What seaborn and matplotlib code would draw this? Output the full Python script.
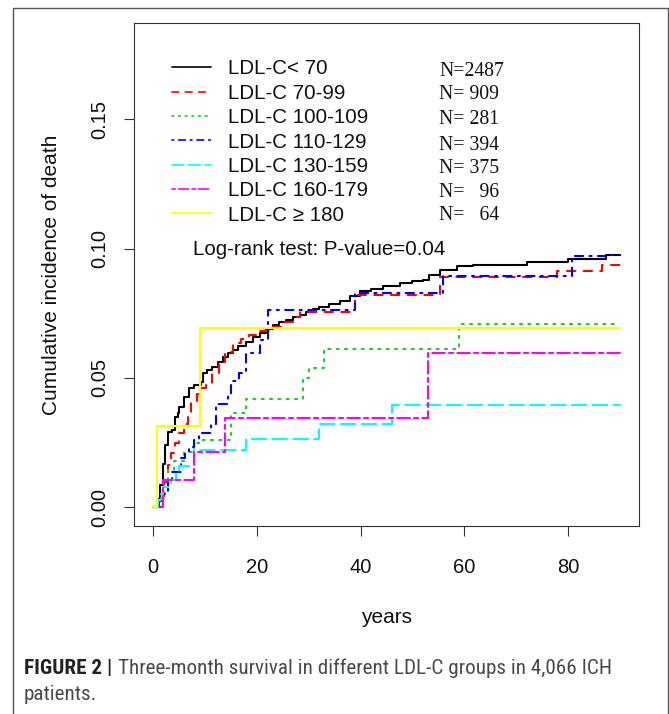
import numpy as np
import pandas as pd
import matplotlib
matplotlib.use("Agg")
import matplotlib.pyplot as plt
import seaborn as sns
from matplotlib.lines import Line2D
from matplotlib.patches import Rectangle
from matplotlib import font_manager

# ---------------- data ----------------
groups = ["LDL-C< 70", "LDL-C 70-99", "LDL-C 100-109", "LDL-C 110-129",
          "LDL-C 130-159", "LDL-C 160-179", "LDL-C \u2265 180"]
counts = ["N=2487", "N= 909", "N= 281", "N= 394", "N= 375", "N=   96", "N=   64"]

black_t = [0, 1.2, 1.4, 1.9, 2.4, 2.9, 3.8, 4.2, 4.8, 5.1, 6.1, 7.0, 8.0, 9.3, 9.6, 10.5,
           11.5, 12.5, 13.5, 14.5, 15.4, 16.5, 18, 19.3, 20.6, 21.8, 23.1, 24.4, 25.7, 27,
           28.3, 29.5, 30.8, 32.1, 34, 36, 38, 39.9, 42, 44.4, 47.6, 50, 52.1, 53.1, 55.3,
           58.5, 61.7, 72, 80, 87.2, 90]
black_v = [0, 0.0032, 0.0085, 0.0169, 0.0240, 0.0292, 0.0298, 0.0350, 0.0363, 0.0389,
           0.0428, 0.0460, 0.0473, 0.0486, 0.0518, 0.0531, 0.0544, 0.0560, 0.0583, 0.0595,
           0.0609, 0.0625, 0.0641, 0.0657, 0.0673, 0.0690, 0.0705, 0.0715, 0.0725, 0.0735,
           0.0744, 0.0755, 0.0766, 0.0776, 0.0786, 0.0796, 0.0815, 0.0835, 0.0845, 0.0854,
           0.0867, 0.0873, 0.0880, 0.0899, 0.0919, 0.0934, 0.0938, 0.0947, 0.0960, 0.0977,
           0.0977]

red_t = [0, 1.5, 1.9, 2.2, 3.0, 3.5, 4.2, 5.1, 6.1, 6.7, 7.4, 8.5, 9.3, 10.3, 11.5, 12.8,
         14.0, 15.4, 17.0, 18.5, 20.6, 23.1, 25.0, 27.0, 28.3, 38.9, 55.2, 77.8, 86.5, 90]
red_v = [0, 0.0011, 0.0044, 0.0099, 0.0165, 0.0209, 0.0247, 0.0286, 0.0324, 0.0363,
         0.0402, 0.0440, 0.0460, 0.0479, 0.0520, 0.0563, 0.0600, 0.0634, 0.0650, 0.0665,
         0.0680, 0.0699, 0.0715, 0.0735, 0.0757, 0.0822, 0.0890, 0.0912, 0.0938, 0.0938]

green_t = [0, 1, 2, 3, 4, 6, 8, 9, 15, 18, 29, 30, 33, 59, 90]
green_v = [0, 0.0036, 0.0107, 0.0143, 0.0180, 0.0215, 0.0250, 0.0260, 0.0363, 0.0417,
           0.0500, 0.0538, 0.0611, 0.0708, 0.0708]

blue_t = [0, 1, 2, 3, 3.8, 5.4, 6.2, 7.0, 8.0, 9.0, 11.2, 12.2, 14.4, 15.1, 16.7, 18.0,
          20.6, 22.2, 38.9, 55.9, 80.7, 87.2, 90]
blue_v = [0, 0.0025, 0.0051, 0.0102, 0.0137, 0.0189, 0.0210, 0.0234, 0.0260, 0.0286,
          0.0324, 0.0400, 0.0434, 0.0490, 0.0518, 0.0596, 0.0647, 0.0764, 0.0828, 0.0895,
          0.0970, 0.0977, 0.0977]

cyan_t = [0, 1, 1.5, 2, 3.5, 4.5, 5, 8, 18, 32, 46, 90]
cyan_v = [0, 0.0027, 0.0053, 0.0080, 0.0107, 0.0133, 0.0160, 0.0221, 0.0266, 0.0322,
          0.0395, 0.0395]

magenta_t = [0, 1.9, 8, 14, 53, 90]
magenta_v = [0, 0.0104, 0.0214, 0.0346, 0.0596, 0.0596]

yellow_t = [0, 0.8, 9.1, 90]
yellow_v = [0, 0.0315, 0.0695, 0.0695]

times = [black_t, red_t, green_t, blue_t, cyan_t, magenta_t, yellow_t]
values = [black_v, red_v, green_v, blue_v, cyan_v, magenta_v, yellow_v]

xticks = [0, 20, 40, 60, 80]
yticks = [0.00, 0.05, 0.10, 0.15]
ytick_labels = ["0.00", "0.05", "0.10", "0.15"]

# ---------------- style ----------------
colors = ["#000000", "#ff0000", "#22cc22", "#0000ff", "#00ffff", "#ff00ff", "#ffff00"]
dash_list = [(), (4, 4), (1, 3), (1, 3, 4, 3), (7, 3), (2, 2, 6, 2), ()]
palette = dict(zip(groups, colors))
dashes = dict(zip(groups, dash_list))

sns.set_theme(style="ticks")
plt.rcParams["font.family"] = ["Liberation Sans", "DejaVu Sans"]
plt.rcParams["lines.dash_capstyle"] = "round"
plt.rcParams["axes.edgecolor"] = "#333333"
plt.rcParams["xtick.color"] = "#333333"
plt.rcParams["ytick.color"] = "#333333"

W, H = 669, 714
fig = plt.figure(figsize=(W / 100, H / 100), dpi=100)
fig.patch.set_facecolor("white")
L, R, T, B = 133.5, 639.0, 23.0, 526.0
ax = fig.add_axes([L / W, 1 - B / H, (R - L) / W, (B - T) / H])


def fx(x):
    return x / W


def fy(y):
    return 1 - y / H


rows = []
for g, tt, vv in zip(groups, times, values):
    for a, b in zip(tt, vv):
        rows.append({"time": a, "inc": b, "group": g})
df = pd.DataFrame(rows)

sns.lineplot(data=df, x="time", y="inc", hue="group", style="group",
             hue_order=groups, style_order=groups, palette=palette, dashes=dashes,
             estimator=None, sort=False, drawstyle="steps-post", linewidth=1.5,
             legend=False, ax=ax)

ax.set_xlim(-3.7, 93.6)
ax.set_ylim(-0.0072, 0.1872)
ax.set_xticks(xticks)
ax.set_yticks(yticks)
ax.set_yticklabels(ytick_labels, rotation=90, va="center")
ax.tick_params(axis="both", direction="out", length=7.2, width=0.8, labelsize=14.5,
               labelcolor="#111111")
ax.tick_params(axis="x", pad=15.5)
ax.tick_params(axis="y", pad=10)
for s in ax.spines.values():
    s.set_linewidth(0.8)
    s.set_visible(True)

ax.set_xlabel("years", fontsize=15, color="#111111")
ax.set_ylabel("Cumulative incidence of death", fontsize=15, color="#111111")
ax.xaxis.set_label_coords(0.5, (B - 608) / (B - T))
ax.yaxis.set_label_coords((61 - L) / (R - L), 0.5)

# legend
handles = []
for c, d in zip(colors, dash_list):
    h = Line2D([], [], color=c, lw=1.2)
    if d:
        h.set_dashes(d)
    handles.append(h)
leg = ax.legend(handles, groups, loc="upper left",
                bbox_to_anchor=(fx(171.7), fy(59.5)), bbox_transform=fig.transFigure,
                frameon=False, fontsize=14.8, handlelength=1.9, handletextpad=0.85,
                labelspacing=0.26, borderpad=0, borderaxespad=0)
for txt in leg.get_texts():
    txt.set_color("#111111")

n_y = [71.7, 94.3, 120, 146, 168.3, 192.7, 215]
for lab, yy in zip(counts, n_y):
    fig.text(fx(439), fy(yy), lab, fontsize=14.2, va="center", ha="left",
             family=["Liberation Serif", "DejaVu Serif"], color="#111111")

fig.text(fx(193), fy(249.5), "Log-rank test: P-value=0.04", fontsize=14.8,
         va="center", ha="left", color="#111111")

# outer frame
fig.add_artist(Rectangle((fx(13), -0.01), fx(667.5) - fx(13), fy(7.5) + 0.01,
                         transform=fig.transFigure, fill=False, ec="#555555", lw=1.0))

# caption
avail = {f.name for f in font_manager.fontManager.ttflist}
cap_fam = "Liberation Sans"
for cand in ["Liberation Sans Narrow", "Roboto Condensed", "Open Sans Condensed", "Roboto"]:
    if cand in avail:
        cap_fam = cand
        break

fs = 13.0
cap_x0, cap_y1, cap_y2 = 24.0, 668.0, 694.5
for _ in range(3):
    for t in list(fig.texts):
        if getattr(t, "_is_caption", False):
            t.remove()
    t1 = fig.text(fx(cap_x0), fy(cap_y1), "FIGURE 2 |", fontsize=fs, weight="bold",
                  va="center", ha="left", family=cap_fam, color="#222222")
    t1._is_caption = True
    fig.canvas.draw()
    rend = fig.canvas.get_renderer()
    bb1 = t1.get_window_extent(rend)
    t2 = fig.text((bb1.x1 + fs * 0.35) / W, fy(cap_y1),
                  "Three-month survival in different LDL-C groups in 4,066 ICH",
                  fontsize=fs, va="center", ha="left", family=cap_fam, color="#4a4a4a")
    t2._is_caption = True
    t3 = fig.text(fx(cap_x0), fy(cap_y2), "patients.", fontsize=fs, va="center",
                  ha="left", family=cap_fam, color="#4a4a4a")
    t3._is_caption = True
    fig.canvas.draw()
    bb2 = t2.get_window_extent(fig.canvas.get_renderer())
    width = bb2.x1 - cap_x0
    fs = fs * (585.0 / width)

fig.savefig("out.png", dpi=100, facecolor="white")
